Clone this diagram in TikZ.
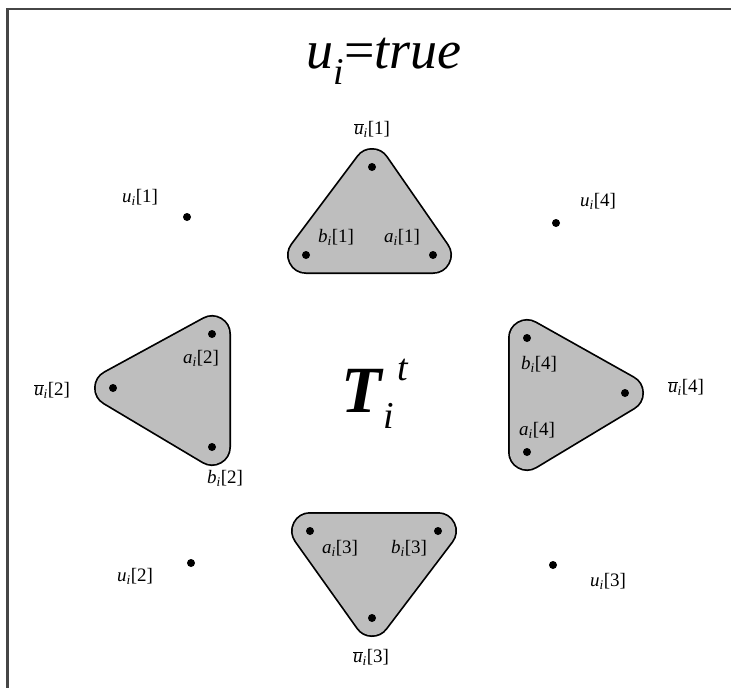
\documentclass[tikz,border=0pt]{standalone}
\usepackage{fontspec}
\setmainfont{Liberation Serif}
\definecolor{tgray}{RGB}{190,190,190}
\definecolor{framegray}{RGB}{70,70,70}
\newcommand{\vlab}[2]{\textit{#1}\textsubscript{\textit{i}}[#2]}
\newcommand{\vbar}[1]{\textit{\mbox{$\overline{\mbox{\textit{u}}}$}}\textsubscript{\textit{i}}[#1]}
\tikzset{
 dot/.style={circle,fill=black,inner sep=0pt,minimum size=8pt},
 lbl/.style={font=\fontsize{19}{22}\selectfont,inner sep=0pt},
 tribg/.style={draw=black,fill=black,line width=38pt,line join=round},
 trifg/.style={draw=tgray,fill=tgray,line width=34.5pt,line join=round},
 frameline/.style={draw=framegray,line width=2.5pt},
}
\begin{document}
\begin{tikzpicture}[x=1pt,y=-1pt]
\useasboundingbox (0,0) rectangle (731,688);
% frame
\coordinate (fbl) at (7.5,690);
\coordinate (ftl) at (7.5,9);
\coordinate (ftr) at (731,9);
\draw[frameline] (fbl) -- (ftl) -- (ftr);
% dot positions
\coordinate (t1u) at (372,167);
\coordinate (t1b) at (306,255);
\coordinate (t1a) at (433,255);
\coordinate (t2u) at (113,388);
\coordinate (t2a) at (212,334);
\coordinate (t2b) at (212,447);
\coordinate (t4b) at (527,338);
\coordinate (t4u) at (625,393);
\coordinate (t4a) at (527,452);
\coordinate (t3a) at (310,531);
\coordinate (t3b) at (438,531);
\coordinate (t3u) at (372,618);
% triangles
\foreach \p/\q/\r in {t1u/t1b/t1a, t2u/t2a/t2b, t4b/t4u/t4a, t3a/t3b/t3u}{
  \path[tribg] (\p) -- (\q) -- (\r) -- cycle;
  \path[trifg] (\p) -- (\q) -- (\r) -- cycle;
}
% dots
\foreach \c in {t1u,t1b,t1a,t2u,t2a,t2b,t4b,t4u,t4a,t3a,t3b,t3u}{
  \node[dot] (d\c) at (\c) {};
}
\node[dot] (u1) at (187,217) {};
\node[dot] (u2) at (191,563) {};
\node[dot] (u3) at (553,565) {};
\node[dot] (u4) at (556,223) {};
% title and center
\node[font=\fontsize{54}{60}\selectfont,inner sep=0pt,anchor=base] (title) at (384,68) {\textit{u}\textsubscript{\textit{i}}=\textit{true}};
\node[font=\fontsize{66}{70}\selectfont,inner sep=0pt,anchor=base west] (T) at (341,412)
  {\textbf{\textit{T}}{\fontsize{38}{40}\selectfont\raisebox{-16pt}{\textit{i}}\hspace{3pt}\raisebox{32pt}{\textit{t}}}};
% labels
\node[lbl] (l1u) at (372,129) {\vbar{1}};
\node[lbl] (l1b) at (336,237) {\vlab{b}{1}};
\node[lbl] (l1a) at (402,237) {\vlab{a}{1}};
\node[lbl] (l2u) at (52,390) {\vbar{2}};
\node[lbl] (l2a) at (201,358) {\vlab{a}{2}};
\node[lbl] (l2b) at (225,478) {\vlab{b}{2}};
\node[lbl] (l4b) at (539,364) {\vlab{b}{4}};
\node[lbl] (l4u) at (686,387) {\vbar{4}};
\node[lbl] (l4a) at (537,430) {\vlab{a}{4}};
\node[lbl] (l3a) at (340,548) {\vlab{a}{3}};
\node[lbl] (l3b) at (409,548) {\vlab{b}{3}};
\node[lbl] (l3u) at (371,657) {\vbar{3}};
\node[lbl] (lu1) at (140,197) {\vlab{u}{1}};
\node[lbl] (lu2) at (135,576) {\vlab{u}{2}};
\node[lbl] (lu3) at (608,581) {\vlab{u}{3}};
\node[lbl] (lu4) at (598,201) {\vlab{u}{4}};
\end{tikzpicture}
\end{document}
